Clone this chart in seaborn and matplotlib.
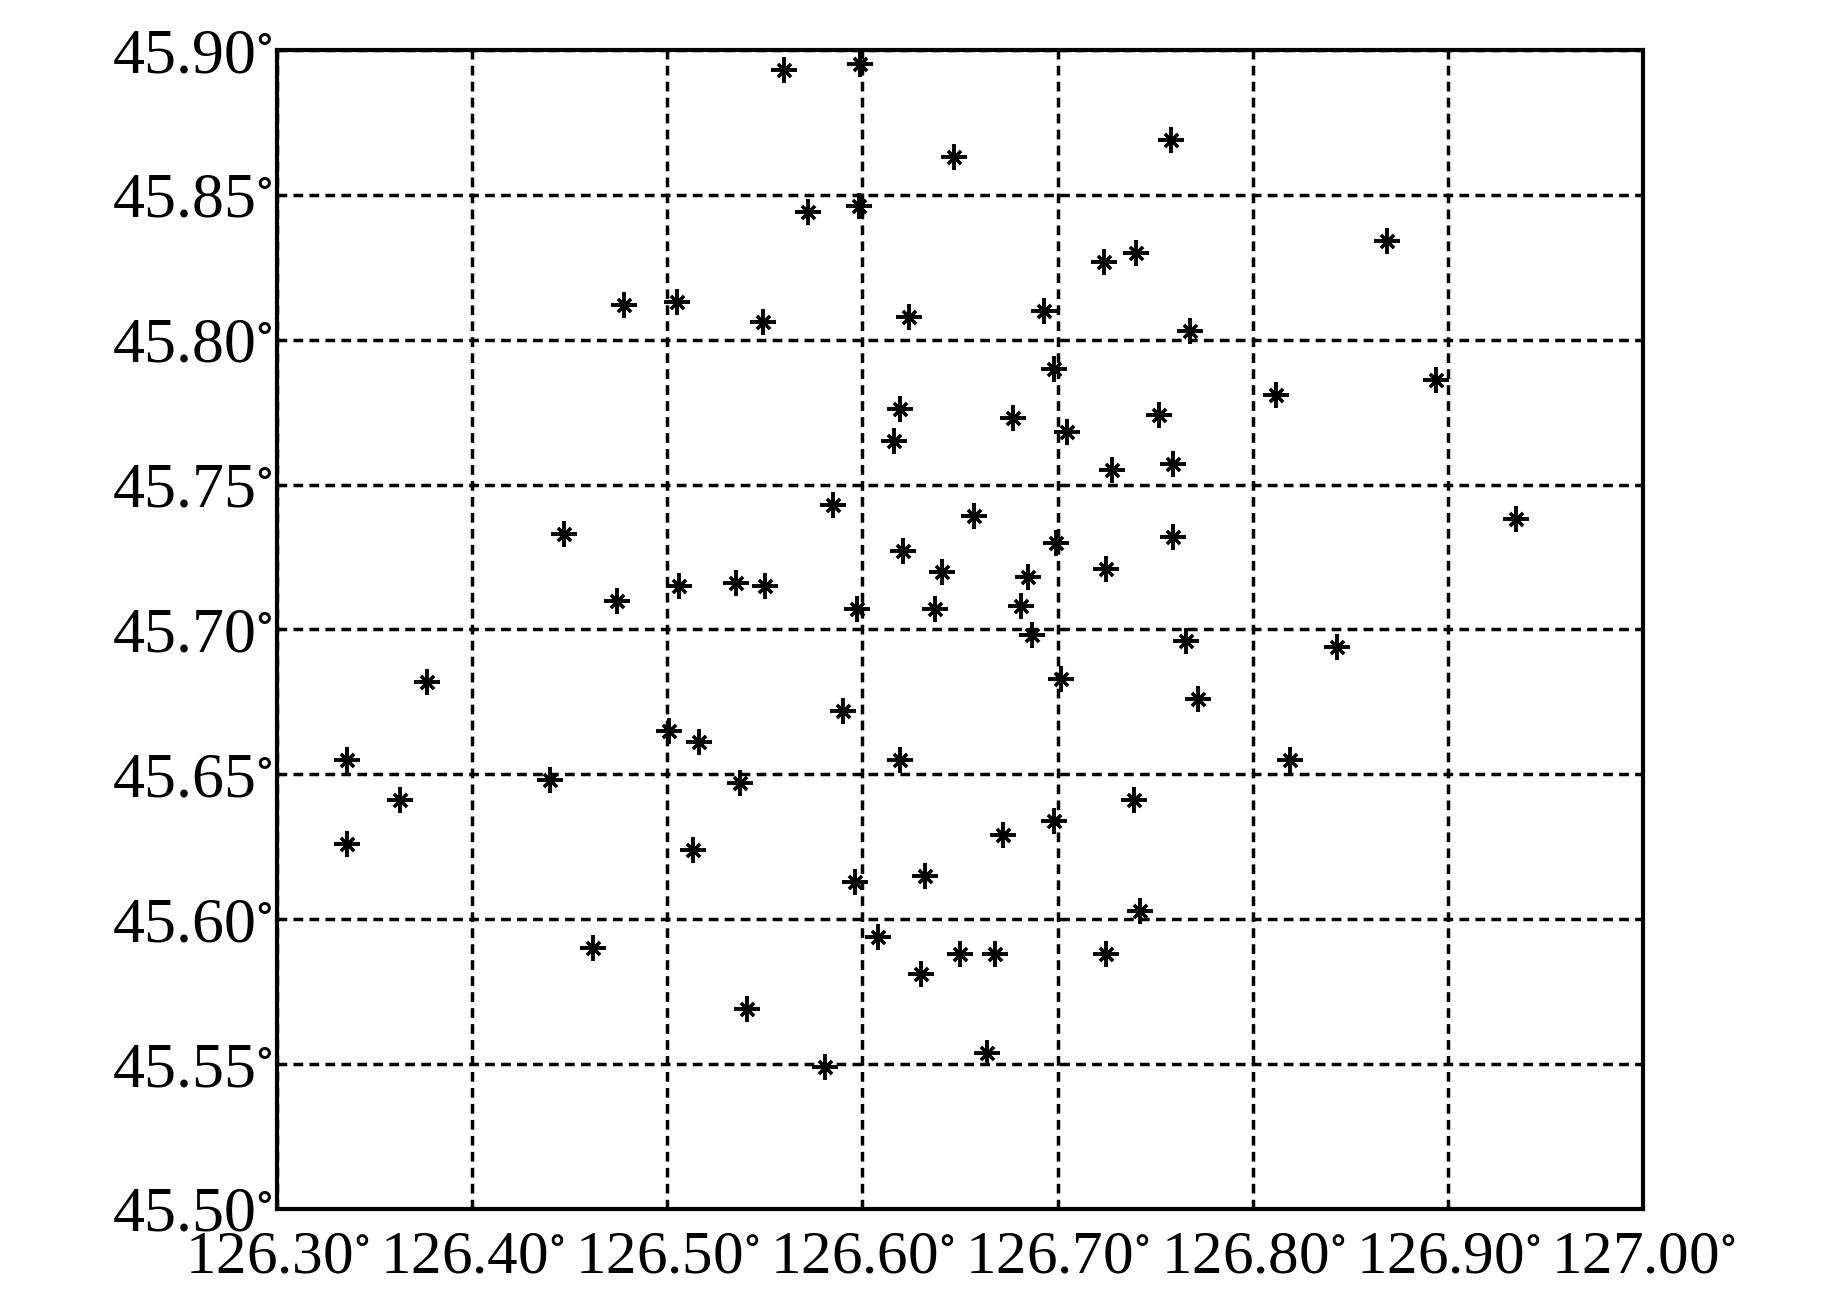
import matplotlib
matplotlib.use("Agg")
import matplotlib.pyplot as plt
import seaborn as sns
import pandas as pd

# station positions (longitude, latitude in degrees)
lon = [126.560, 126.599, 126.647, 126.758, 126.572, 126.598, 126.869, 126.724,
       126.740, 126.478, 126.505, 126.549, 126.624, 126.693, 126.768, 126.698,
       126.812, 126.894, 126.619, 126.616, 126.677, 126.705, 126.752, 126.728,
       126.759, 126.585, 126.657, 126.935, 126.447, 126.699, 126.759, 126.621,
       126.641, 126.725, 126.506, 126.535, 126.550, 126.685, 126.474, 126.597,
       126.637, 126.681, 126.687, 126.766, 126.843, 126.377, 126.702, 126.772,
       126.590, 126.501, 126.516, 126.336, 126.619, 126.819, 126.440, 126.537,
       126.363, 126.739, 126.698, 126.672, 126.336, 126.513, 126.632, 126.596,
       126.742, 126.608, 126.462, 126.725, 126.650, 126.668, 126.630, 126.541,
       126.664, 126.581]
lat = [45.893, 45.895, 45.863, 45.869, 45.844, 45.846, 45.834, 45.827,
       45.830, 45.812, 45.813, 45.806, 45.808, 45.810, 45.803, 45.790,
       45.781, 45.786, 45.776, 45.765, 45.773, 45.768, 45.774, 45.755,
       45.757, 45.743, 45.739, 45.738, 45.733, 45.730, 45.732, 45.727,
       45.720, 45.721, 45.715, 45.716, 45.715, 45.718, 45.710, 45.707,
       45.707, 45.708, 45.698, 45.696, 45.694, 45.682, 45.683, 45.676,
       45.672, 45.665, 45.661, 45.655, 45.655, 45.655, 45.648, 45.647,
       45.641, 45.641, 45.634, 45.629, 45.626, 45.624, 45.615, 45.613,
       45.603, 45.594, 45.590, 45.588, 45.588, 45.588, 45.581, 45.569,
       45.554, 45.549]

x_ticks = [126.30, 126.40, 126.50, 126.60, 126.70, 126.80, 126.90, 127.00]
y_ticks = [45.50, 45.55, 45.60, 45.65, 45.70, 45.75, 45.80, 45.85, 45.90]

df = pd.DataFrame({"lon": lon, "lat": lat})

sns.set_style("white")
plt.rcParams["font.family"] = ["Liberation Serif", "DejaVu Serif"]
plt.rcParams["mathtext.fontset"] = "stix"

fig = plt.figure(figsize=(18.43, 12.99), dpi=100)
ax = fig.add_axes([0.1503, 0.0693, 0.7412, 0.8922])

# asterisk-like marker: a plus with a smaller cross on top
sns.scatterplot(data=df, x="lon", y="lat", marker="+", s=340, color="black",
                linewidth=2.8, ax=ax, zorder=3)
sns.scatterplot(data=df, x="lon", y="lat", marker="x", s=90, color="black",
                linewidth=2.6, ax=ax, zorder=3)

ax.set_xlim(126.30, 127.00)
ax.set_ylim(45.50, 45.90)
ax.set_xticks(x_ticks)
ax.set_yticks(y_ticks)
ax.set_xticklabels([f"{v:.2f}$^{{\\circ}}$" for v in x_ticks])
ax.set_yticklabels([f"{v:.2f}$^{{\\circ}}$" for v in y_ticks])
ax.set_xlabel("")
ax.set_ylabel("")

ax.grid(True, color="black", linewidth=2.5, linestyle=(0, (2.8, 1.8)))
ax.set_axisbelow(True)
ax.tick_params(axis="both", direction="in", length=8, width=2.3,
               colors="black")
ax.tick_params(axis="x", pad=15, labelsize=44)
ax.tick_params(axis="y", pad=3, labelsize=46)
for sp in ax.spines.values():
    sp.set_visible(True)
    sp.set_color("black")
    sp.set_linewidth(3)

fig.savefig("out.png", dpi=100, facecolor="white")
plt.close(fig)
